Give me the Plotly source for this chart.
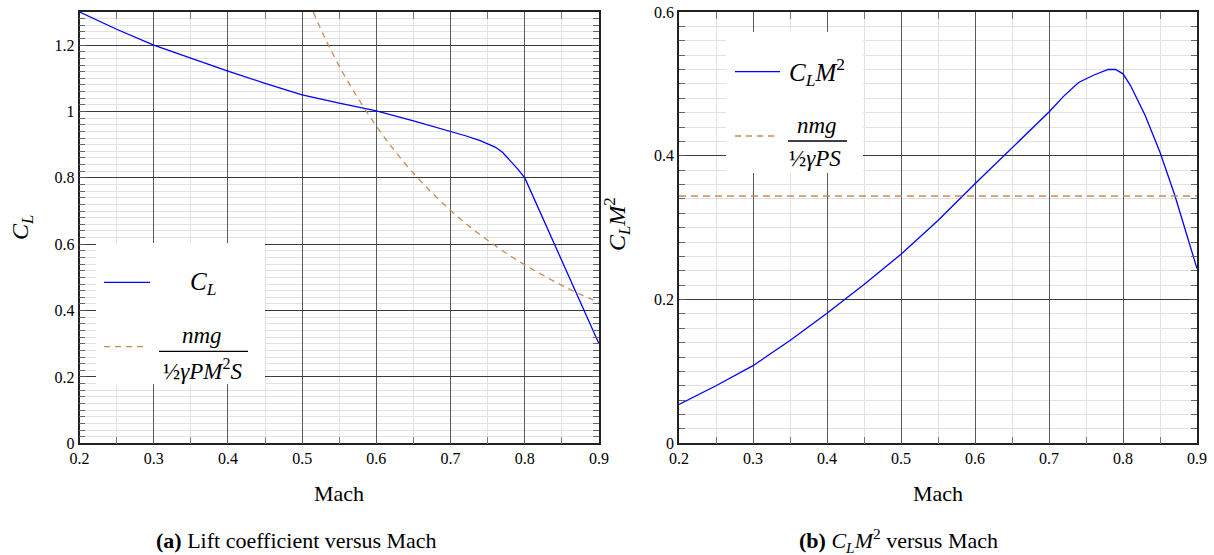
import plotly.graph_objects as go

# ---------------- data ----------------
mach_cl = [0.20, 0.25, 0.30, 0.35, 0.40, 0.45, 0.50, 0.55, 0.60, 0.65, 0.70,
           0.72, 0.74, 0.76, 0.77, 0.78, 0.79, 0.80, 0.85, 0.90]
cl = [1.300, 1.248, 1.200, 1.160, 1.122, 1.085, 1.050, 1.025, 1.002, 0.972, 0.940,
      0.927, 0.912, 0.893, 0.877, 0.853, 0.828, 0.800, 0.550, 0.300]

mach_req = [0.515, 0.53, 0.55, 0.575, 0.60, 0.625, 0.65, 0.675, 0.70, 0.725,
            0.75, 0.775, 0.80, 0.825, 0.85, 0.875, 0.90]
cl_req = [1.300, 1.225, 1.137, 1.041, 0.956, 0.881, 0.814, 0.755, 0.702, 0.654,
          0.612, 0.573, 0.538, 0.506, 0.476, 0.449, 0.425]

mach_b = [0.20, 0.25, 0.30, 0.35, 0.40, 0.45, 0.50, 0.55, 0.60, 0.65, 0.70, 0.72,
          0.74, 0.76, 0.78, 0.79, 0.80, 0.81, 0.83, 0.85, 0.87, 0.90]
clm2 = [0.054, 0.080, 0.108, 0.143, 0.181, 0.221, 0.263, 0.310, 0.361, 0.411, 0.461, 0.483,
        0.502, 0.512, 0.520, 0.520, 0.514, 0.498, 0.456, 0.405, 0.345, 0.243]

mach_b_req = [0.20, 0.90]
clm2_req = [0.344, 0.344]

x_ticks = [0.2, 0.3, 0.4, 0.5, 0.6, 0.7, 0.8, 0.9]
y_ticks_a = [0, 0.2, 0.4, 0.6, 0.8, 1.0, 1.2]
y_ticks_b = [0, 0.2, 0.4, 0.6]

# ---------------- styling ----------------
W, H = 1214, 555
FONT = "Liberation Serif"
BLUE = "#0000ff"
ORANGE = "#c98a52"


def px(x):
    return x / W


def py(y):
    return 1 - y / H


fig = go.Figure()
fig.add_trace(go.Scatter(x=mach_cl, y=cl, mode="lines", line=dict(color=BLUE, width=1.3),
                         xaxis="x", yaxis="y", showlegend=False))
fig.add_trace(go.Scatter(x=mach_req, y=cl_req, mode="lines", line_shape="spline",
                         line=dict(color=ORANGE, width=1.3, dash="6px,5px"),
                         xaxis="x", yaxis="y", showlegend=False))
fig.add_trace(go.Scatter(x=mach_b, y=clm2, mode="lines", line=dict(color=BLUE, width=1.3),
                         xaxis="x2", yaxis="y2", showlegend=False))
fig.add_trace(go.Scatter(x=mach_b_req, y=clm2_req, mode="lines",
                         line=dict(color=ORANGE, width=1.6, dash="7px,5px"),
                         xaxis="x2", yaxis="y2", showlegend=False))

ydom = [py(443.3), py(12)]


def xaxis_cfg(dom, anchor):
    return dict(domain=dom, range=[0.2, 0.9], tickvals=x_ticks, ticks="inside", ticklen=7,
                anchor=anchor,
                tickcolor="#555", showline=True, linecolor="#222", linewidth=1.5, mirror="allticks",
                showgrid=True, gridcolor="#5a5a5a", gridwidth=1, zeroline=False,
                tickfont=dict(family=FONT, size=16, color="black"),
                minor=dict(dtick=0.05, ticks="inside", ticklen=7, tickcolor="#777",
                           showgrid=True, gridcolor="#e2e2e2", gridwidth=1.2))


def yaxis_cfg(rng, ticks, anchor):
    return dict(domain=ydom, range=rng, tickvals=ticks, tickformat="~g",
                ticks="inside", ticklen=7, tickcolor="#555", ticklabeloverflow="allow",
                anchor=anchor, showline=True, linecolor="#222", linewidth=1.5, mirror="allticks",
                showgrid=True, gridcolor="#3a3a3a", gridwidth=1, zeroline=False,
                tickfont=dict(family=FONT, size=16, color="black"),
                minor=dict(tick0=0, dtick=0.02, ticks="inside", ticklen=6, tickcolor="#666",
                           showgrid=True, gridcolor="#e2e2e2", gridwidth=1.2))


shapes = []
annotations = []

# legend boxes and samples
legends = [
    dict(box=(96, 243, 265, 384), l1=(104, 150, 282.3), l2=(104, 146, 346.7),
         t1=("<i>C<sub>L</sub></i>", 203, 283),
         num=("<i>nmg</i>", 202, 335), bar=(159, 248, 351.3),
         den=("½<i>γPM</i><sup>2</sup><i>S</i>", 203, 369)),
    dict(box=(726, 32, 863, 173), l1=(735, 780, 71.7), l2=(735, 776, 136),
         t1=("<i>C<sub>L</sub>M</i><sup>2</sup>", 817, 72),
         num=("<i>nmg</i>", 817, 125), bar=(788, 847, 141),
         den=("½<i>γPS</i>", 815, 159)),
]
for lg in legends:
    x0, y0, x1, y1 = lg["box"]
    shapes.append(dict(type="rect", xref="paper", yref="paper", x0=px(x0), x1=px(x1),
                       y0=py(y1), y1=py(y0), fillcolor="white", line=dict(width=0), layer="above"))
    a, b, c = lg["l1"]
    shapes.append(dict(type="line", xref="paper", yref="paper", x0=px(a), x1=px(b), y0=py(c), y1=py(c),
                       line=dict(color=BLUE, width=1.3), layer="above"))
    a, b, c = lg["l2"]
    shapes.append(dict(type="line", xref="paper", yref="paper", x0=px(a), x1=px(b), y0=py(c), y1=py(c),
                       line=dict(color=ORANGE, width=1.3, dash="6px,5px"), layer="above"))
    a, b, c = lg["bar"]
    shapes.append(dict(type="line", xref="paper", yref="paper", x0=px(a), x1=px(b), y0=py(c), y1=py(c),
                       line=dict(color="black", width=1.3), layer="above"))
    for key, size in (("t1", 25), ("num", 23), ("den", 23)):
        t, x, y = lg[key]
        annotations.append(dict(text=t, xref="paper", yref="paper", x=px(x), y=py(y),
                                xanchor="center", yanchor="middle", showarrow=False,
                                font=dict(family=FONT, size=size, color="black")))

# axis titles and captions
texts = [
    ("Mach", 338.7, 493, 22, 0),
    ("Mach", 938, 493, 22, 0),
    ("<i>C<sub>L</sub></i>", 22, 228, 24, -90),
    ("<i>C<sub>L</sub>M</i><sup>2</sup>", 617, 224, 24, -90),
    ("<b>(a)</b> Lift coefficient versus Mach", 296, 540, 22, 0),
    ("<b>(b)</b> <i>C<sub>L</sub>M</i><sup>2</sup> versus Mach", 898, 540, 22, 0),
]
for t, x, y, s, ang in texts:
    annotations.append(dict(text=t, xref="paper", yref="paper", x=px(x), y=py(y),
                            xanchor="center", yanchor="middle", showarrow=False, textangle=ang,
                            font=dict(family=FONT, size=s, color="black")))

fig.update_layout(
    width=W, height=H, margin=dict(l=0, r=0, t=0, b=0, autoexpand=False),
    paper_bgcolor="white", plot_bgcolor="white",
    xaxis=xaxis_cfg([px(79.5), px(599)], "y"),
    yaxis=yaxis_cfg([0, 1.3], y_ticks_a, "x"),
    xaxis2=xaxis_cfg([px(679), px(1197)], "y2"),
    yaxis2=yaxis_cfg([0, 0.6], y_ticks_b, "x2"),
    shapes=shapes, annotations=annotations,
    font=dict(family=FONT, color="black"),
)

# remove the browser's default 8px page margin so the figure sits at the window's corner
fig.write_html("out.html", config={"displayModeBar": False},
               post_script="document.body.style.margin='0px';")
